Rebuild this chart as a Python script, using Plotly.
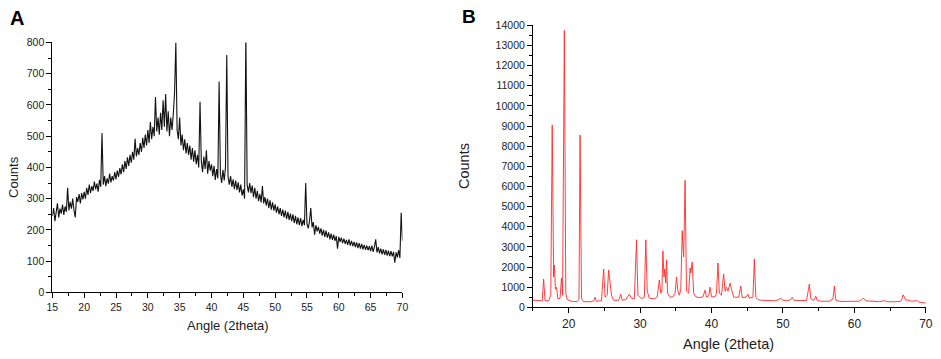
import plotly.graph_objects as go

# ---------------- Panel A data (amorphous pattern, 0.2 deg sampling from 15 deg) ----------------
angle_a_start = 15.0
angle_a_step = 0.2
counts_a = [
    # 15.0 - 19.8
    245, 270, 228, 262, 285, 240, 268, 252, 281, 248, 275, 258, 335, 262, 290, 268, 300, 262, 240, 305, 290, 315, 285, 318, 298,
    # 20.0 - 24.8
    322, 300, 335, 312, 345, 318, 340, 325, 355, 330, 348, 322, 360, 338, 510, 345, 372, 340, 365, 348, 380, 352, 372, 358, 385,
    # 25.0 - 29.8
    362, 390, 370, 398, 378, 410, 385, 420, 395, 432, 405, 440, 415, 450, 425, 492, 435, 462, 440, 478, 450, 495, 462, 505, 470,
    # 30.0 - 34.8
    520, 478, 545, 490, 530, 500, 625, 515, 560, 505, 575, 520, 615, 530, 635, 515, 580, 500, 560, 520, 570, 640, 800, 520, 490,
    # 35.0 - 39.8
    560, 470, 505, 455, 490, 445, 478, 440, 470, 425, 462, 418, 455, 410, 440, 400, 610, 420, 385, 435, 395, 455, 380, 420, 390,
    # 40.0 - 44.8
    410, 372, 405, 360, 395, 365, 675, 380, 350, 392, 358, 400, 760, 370, 345, 372, 338, 362, 330, 358, 328, 352, 320, 345, 310,
    # 45.0 - 49.8
    330, 300, 830, 345, 320, 350, 318, 342, 305, 335, 300, 325, 292, 315, 288, 340, 285, 305, 278, 300, 270, 295, 265, 288, 262,
    # 50.0 - 54.8
    282, 255, 275, 250, 270, 245, 265, 240, 262, 235, 258, 232, 252, 228, 250, 222, 245, 218, 240, 215, 238, 212, 232, 215, 350,
    # 55.0 - 59.8
    220, 205, 228, 270, 208, 225, 185, 215, 195, 210, 188, 205, 182, 200, 178, 198, 175, 192, 170, 188, 168, 185, 165, 180, 140,
    # 60.0 - 64.8
    178, 162, 175, 158, 172, 155, 168, 152, 170, 150, 165, 148, 162, 145, 160, 142, 158, 140, 155, 138, 152, 136, 150, 135, 148,
    # 65.0 - 69.8
    132, 150, 130, 146, 170, 128, 145, 125, 140, 122, 138, 120, 136, 118, 134, 116, 132, 115, 130, 95, 128, 112, 135, 110, 255,
    # 70.0
    165,
]
angle_a = [round(angle_a_start + angle_a_step * i, 1) for i in range(len(counts_a))]

# ---------------- Panel B data (crystalline pattern) ----------------
angle_b = [
    15.0, 15.5, 16.0, 16.3, 16.5, 16.7, 17.2, 17.5, 17.7, 17.9, 18.0, 18.15, 18.3, 18.5, 18.8, 19.0, 19.15, 19.4, 19.6, 19.8,
    20.5, 21.2, 21.45, 21.6, 21.8, 22.1, 23.0, 23.5, 23.7, 23.9, 24.6, 24.9, 25.1, 25.4, 25.6, 25.8, 26.0, 26.3, 27.0, 27.3,
    27.5, 28.0, 28.5, 28.8, 29.2, 29.5, 29.7, 30.2, 30.6, 30.8, 31.0, 31.3, 32.0, 32.4, 32.7, 32.9, 33.05, 33.2, 33.35, 33.45,
    33.6, 33.7, 33.85, 34.2, 34.6, 34.9, 35.1, 35.3, 35.5, 35.7, 35.9, 36.1, 36.3, 36.5, 36.8, 37.0, 37.1, 37.3, 37.5, 37.8,
    38.3, 38.8, 39.1, 39.3, 39.6, 39.8, 40.0, 40.5, 40.7, 40.9, 41.1, 41.4, 41.7, 41.9, 42.1, 42.3, 42.5, 42.6, 42.8, 43.1,
    43.8, 44.1, 44.3, 44.8, 45.1, 45.3, 45.8, 46.0, 46.2, 46.5, 47.0, 48.0, 49.0, 49.5, 49.7, 49.9, 50.5, 51.0, 51.3, 51.6,
    52.5, 53.3, 53.7, 53.9, 54.3, 54.6, 54.8, 55.5, 56.5, 57.0, 57.2, 57.4, 58.0, 59.0, 60.0, 60.7, 61.0, 61.3, 61.6, 62.5,
    63.5, 64.3, 64.5, 65.5, 66.5, 66.7, 66.8, 67.0, 67.2, 67.5, 68.0, 68.8, 69.0, 69.5, 70.0,
]
counts_b = [
    355, 330, 310, 320, 1400, 330, 320, 600, 9050, 1500, 2100, 900, 1000, 420, 450, 1450, 600, 13750, 700, 380,
    290, 280, 400, 8550, 450, 280, 275, 310, 500, 300, 330, 1900, 500, 600, 1850, 1200, 600, 350, 340, 650,
    350, 380, 650, 450, 420, 3350, 600, 420, 500, 3350, 800, 450, 420, 520, 1350, 700, 800, 2800, 1500, 1900,
    1200, 2350, 700, 500, 520, 700, 1500, 800, 600, 900, 3800, 2500, 6300, 800, 700, 1950, 1700, 2250, 700, 520,
    480, 520, 850, 500, 550, 1000, 520, 520, 700, 2200, 700, 600, 1650, 800, 1000, 800, 1150, 1200, 900, 500,
    500, 1050, 480, 500, 650, 450, 500, 2400, 500, 380, 350, 330, 320, 400, 450, 360, 330, 360, 500, 340,
    320, 330, 1150, 420, 340, 550, 330, 300, 300, 420, 1050, 350, 290, 285, 280, 300, 380, 450, 320, 290,
    280, 330, 280, 270, 300, 450, 620, 500, 350, 360, 300, 330, 260, 240, 210,
]

W, H = 941, 359
FONT = "Arial, Liberation Sans, sans-serif"

def px_x(p):
    return p / W

def px_y(p):
    return 1 - p / H

fig = go.Figure()
fig.add_trace(go.Scatter(x=angle_a, y=counts_a, mode="lines",
                         line=dict(color="#111111", width=1.1),
                         xaxis="x", yaxis="y", showlegend=False, hoverinfo="skip"))
fig.add_trace(go.Scatter(x=angle_b, y=counts_b, mode="lines",
                         line=dict(color="#ff2a2a", width=0.9),
                         xaxis="x2", yaxis="y2", showlegend=False, hoverinfo="skip"))

axis_common = dict(showline=True, linecolor="black", linewidth=1, mirror=False,
                   showgrid=False, zeroline=False, ticks="outside", ticklen=5,
                   tickwidth=1, tickcolor="black", tickformat="d")

fig.update_layout(
    width=W, height=H,
    margin=dict(l=0, r=0, t=0, b=0),
    paper_bgcolor="white", plot_bgcolor="white",
    font=dict(family=FONT, color="#222222"),
    xaxis=dict(**axis_common, domain=[px_x(47), px_x(402)], range=[15, 70],
               dtick=5, tick0=15, anchor="y",
               minor=dict(dtick=2.5, ticklen=3, ticks="outside", tickcolor="black"),
               tickfont=dict(size=10.5, family=FONT, color="#222222")),
    yaxis=dict(**axis_common, domain=[px_y(296.3), px_y(37.7)], range=[0, 800],
               dtick=100, anchor="x",
               minor=dict(dtick=50, ticklen=3, ticks="outside", tickcolor="black"),
               tickfont=dict(size=10.5, family=FONT, color="#222222")),
    xaxis2=dict(**axis_common, domain=[px_x(534.3), px_x(932.7)], range=[15, 70],
                dtick=10, tick0=0, anchor="y2",
                minor=dict(dtick=5, ticklen=3, ticks="outside", tickcolor="black"),
                tickfont=dict(size=12, family=FONT, color="#222222")),
    yaxis2=dict(**axis_common, domain=[px_y(311.7), px_y(20)], range=[0, 14000],
                dtick=1000, anchor="x2",
                minor=dict(dtick=500, ticklen=3, ticks="outside", tickcolor="black"),
                tickfont=dict(size=10.5, family=FONT, color="#222222")),
)

ann = [
    dict(text="<b>A</b>", x=px_x(11), y=px_y(12), font=dict(size=20, family=FONT, color="black")),
    dict(text="<b>B</b>", x=px_x(469), y=px_y(11), font=dict(size=19, family=FONT, color="black")),
    dict(text="Counts", x=px_x(7), y=px_y(177), textangle=-90, font=dict(size=13, family=FONT, color="#222222")),
    dict(text="Angle (2theta)", x=px_x(225), y=px_y(331), font=dict(size=13, family=FONT, color="#222222")),
    dict(text="Counts", x=px_x(465), y=px_y(166), textangle=-90, font=dict(size=14.5, family=FONT, color="#222222")),
    dict(text="Angle (2theta)", x=px_x(733), y=px_y(350), font=dict(size=14.5, family=FONT, color="#222222")),
]
for a in ann:
    fig.add_annotation(xref="paper", yref="paper", showarrow=False,
                       xanchor="center", yanchor="middle", **a)

fig.write_html("out.html",
               config={"displayModeBar": False},
               post_script="document.body.style.margin='0';document.body.style.overflow='hidden';")
